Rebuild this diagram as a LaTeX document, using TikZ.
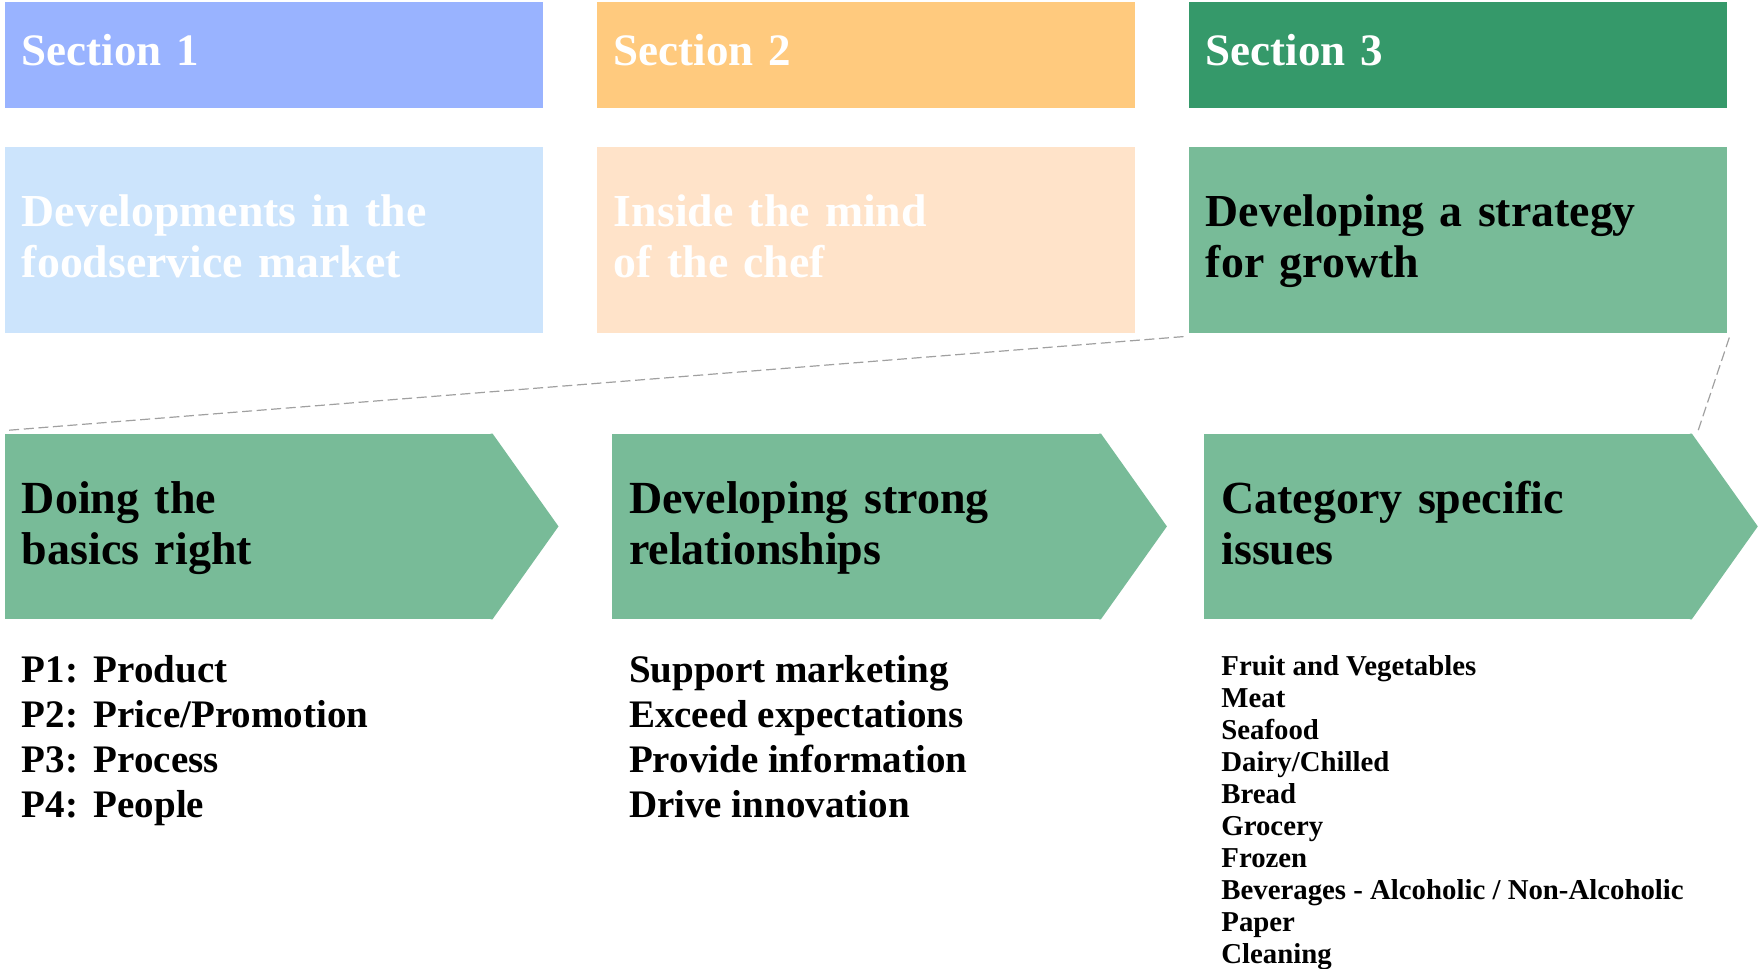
\documentclass[tikz,border=0pt]{standalone}
\usepackage{fontspec}
\setmainfont{Liberation Serif}
\usetikzlibrary{positioning,calc}
\definecolor{SecBlue}{RGB}{153,179,255}
\definecolor{SecOrange}{RGB}{255,202,126}
\definecolor{SecGreen}{RGB}{53,153,106}
\definecolor{PaleBlue}{RGB}{204,228,252}
\definecolor{PalePeach}{RGB}{255,227,201}
\definecolor{MidGreen}{RGB}{120,187,152}
\definecolor{GuideGrey}{RGB}{160,160,160}
\tikzset{
  secbox/.style={anchor=north west,minimum width=269pt,minimum height=53pt,
    inner xsep=8.5pt,inner ysep=0pt,text width=252pt,align=left,text=white,
    font=\fontsize{22.5}{26}\selectfont\bfseries,
    execute at begin node=\strut,execute at end node=\strut},
  titlebox/.style={anchor=north west,minimum width=269pt,minimum height=93pt,
    inner xsep=8.5pt,inner ysep=0pt,text width=252pt,align=left,
    font=\fontsize{22.9}{25.5}\selectfont\bfseries,
    execute at begin node=\strut,execute at end node=\rule[-6.5pt]{0pt}{6.5pt}},
  chevron/.style={anchor=north west,fill=MidGreen,minimum height=92.5pt,
    inner xsep=8.5pt,inner ysep=0pt,align=left,
    font=\fontsize{23}{25.8}\selectfont\bfseries,
    execute at begin node=\strut,execute at end node=\rule[-5.5pt]{0pt}{5.5pt}},
  bigitems/.style={anchor=north west,inner sep=0pt,align=left,
    font=\fontsize{19.5}{22.4}\selectfont\bfseries},
  smallitems/.style={anchor=north west,inner sep=0pt,align=left,
    font=\fontsize{14.4}{16}\selectfont\bfseries},
  guide/.style={draw=GuideGrey,line width=0.6pt,dash pattern=on 5pt off 2.3pt}
}

\begin{document}
\begin{tikzpicture}[x=0.5pt,y=-0.5pt]
  \useasboundingbox (0,0) rectangle (1758,969);
  % section headers and their titles
  \node[secbox,fill=SecBlue] (sec1) at (4.5,2) {Section 1};
  \node[secbox,fill=SecOrange] (sec2) at (596.5,2) {Section 2};
  \node[secbox,fill=SecGreen] (sec3) at (1188.5,2) {Section 3};
  \node[titlebox,fill=PaleBlue,text=white,below=19pt of sec1.south west,anchor=north west] (market) {Developments in the\\foodservice market};
  \node[titlebox,fill=PalePeach,text=white,below=19pt of sec2.south west,anchor=north west] (chef) {Inside the mind\\of the chef};
  \node[titlebox,fill=MidGreen,below=19pt of sec3.south west,anchor=north west] (growth) {Developing a strategy\\for growth};
  % chevrons for section 3
  \node[chevron,minimum width=243.6pt,text width=226.6pt] (basics) at (4.5,433.5) {Doing the\\basics right};
  \node[chevron,minimum width=244.2pt,text width=227.2pt] (relations) at (611.7,433.5) {Developing strong\\relationships};
  \node[chevron,minimum width=243.5pt,text width=226.5pt] (category) at (1204,433.5) {Category specific\\issues};
  \foreach \n in {basics,relations,category}
    \fill[MidGreen] ($(\n.north east)+(-2,0)$) -- (\n.north east) -- ($(\n.east)+(66,0)$)
      -- (\n.south east) -- ($(\n.south east)+(-2,0)$) -- cycle;
  % zoom-out guides
  \draw[guide] ($(growth.south west)+(-5,3)$) -- ($(basics.north west)+(1,-3)$);
  \draw[guide] ($(growth.south east)+(2,4)$) -- ($(category.north east)+(6,-2)$);
  % item lists
  \node[bigitems,below right=18pt and 8.5pt of basics.south west] (plist)
    {P1:\hspace{0.4em}Product\\P2:\hspace{0.4em}Price/Promotion\\P3:\hspace{0.4em}Process\\P4:\hspace{0.4em}People};
  \node[bigitems,below right=18pt and 8.5pt of relations.south west] (rlist)
    {Support marketing\\Exceed expectations\\Provide information\\Drive innovation};
  \node[smallitems,below right=18pt and 8.5pt of category.south west] (clist)
    {Fruit and Vegetables\\Meat\\Seafood\\Dairy/Chilled\\Bread\\Grocery\\Frozen\\Beverages - Alcoholic / Non-Alcoholic\\Paper\\Cleaning};
\end{tikzpicture}
\end{document}
